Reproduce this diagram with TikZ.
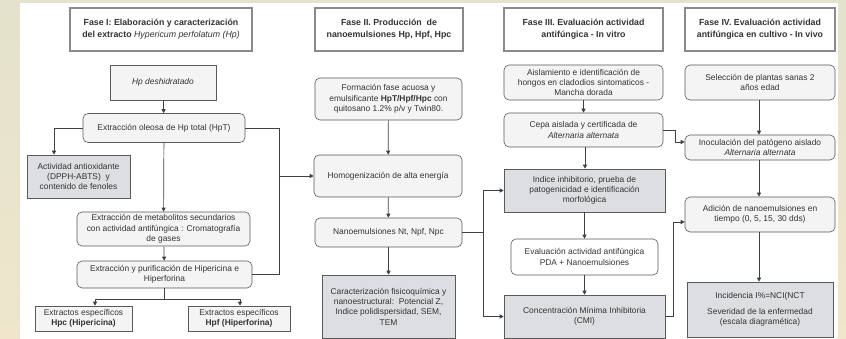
\documentclass[tikz,border=0pt]{standalone}
\usepackage{fontspec}
\setmainfont{Liberation Sans}
\usetikzlibrary{arrows.meta,calc}
\definecolor{bdr}{HTML}{5A5A5A}
\definecolor{tbdr}{HTML}{8A8A8A}
\definecolor{lfill}{HTML}{F4F4F4}
\definecolor{dfill}{HTML}{DCDEE1}
\definecolor{txt}{HTML}{333333}
\definecolor{ln}{HTML}{404040}
\definecolor{bgA}{HTML}{E4E2CC}
\definecolor{bgB}{HTML}{EFE6CC}
\begin{document}
\begin{tikzpicture}[x=1pt,y=-1pt,
  base/.style={align=center,text=txt,font=\fontsize{8.4}{10.3}\selectfont,inner sep=2pt},
  titlebox/.style={base,draw=tbdr,line width=1.3pt,fill=white,font=\bfseries\fontsize{8.8}{12}\selectfont},
  rbox/.style={base,draw=bdr,line width=0.6pt,rounded corners=5pt,fill=lfill},
  sbox/.style={base,draw=bdr,line width=0.6pt,fill=lfill},
  dbox/.style={base,draw=bdr,line width=0.6pt,fill=dfill},
  wbox/.style={base,draw=bdr,line width=0.6pt,fill=white},
  arr/.style={draw=ln,line width=0.7pt,-{Triangle[length=4pt,width=4pt]}},
  lin/.style={draw=ln,line width=0.7pt}]
\useasboundingbox (0,0) rectangle (846,339);
\shade[top color=bgA,bottom color=bgB] (0,0) rectangle (846,339);
\fill[white] (20,3) rectangle (838,339);

% Column I
\node[titlebox,minimum width=182pt,minimum height=43pt] (t1) at (161,29.5) {Fase I: Elaboración y caracterización\\del extracto \mdseries\itshape Hypericum perfolatum (Hp)};
\node[sbox,minimum width=106pt,minimum height=35pt] (hp) at (163,82.5) {\itshape Hp deshidratado};
\node[rbox,minimum width=162pt,minimum height=29pt] (ext) at (164,128) {Extracción oleosa de Hp total (HpT)};
\node[dbox,minimum width=103pt,minimum height=43pt] (act) at (78.5,176.5) {Actividad antioxidante\\(DPPH-ABTS)\ \ y\\contenido de fenoles};
\node[rbox,minimum width=173pt,minimum height=34pt] (met) at (163.5,229) {Extracción de metabolitos secundarios\\con actividad antifúngica : Cromatografía\\de gases};
\node[rbox,minimum width=175pt,minimum height=27pt] (pur) at (164.5,274.5) {Extracción y purificación de Hipericina e\\Hiperforina};
\node[sbox,minimum width=97pt,minimum height=25pt] (hpc) at (83.5,318.5) {Extractos específicos\\\textbf{Hpc (Hipericina)}};
\node[sbox,minimum width=102pt,minimum height=25pt] (hpf) at (239,318.5) {Extractos específicos\\\textbf{Hpf (Hiperforina)}};

% Column II
\node[titlebox,minimum width=148pt,minimum height=43pt] (t2) at (389,29.5) {Fase II. Producción\ \ de\\nanoemulsiones Hp, Hpf, Hpc};
\node[rbox,minimum width=147pt,minimum height=42pt] (form) at (388.5,99) {Formación fase acuosa y\\emulsificante \textbf{HpT/Hpf/Hpc} con\\quitosano 1.2\% p/v y Twin80.};
\node[rbox,minimum width=148pt,minimum height=42pt] (hom) at (388,176) {Homogenización de alta energía};
\node[rbox,minimum width=147pt,minimum height=29pt] (nano) at (388.5,232.5) {Nanoemulsiones Nt, Npf, Npc};
\node[dbox,minimum width=133pt,minimum height=63pt] (car) at (388.5,306.5) {Caracterización fisicoquímica y\\nanoestructural:\ \ Potencial Z,\\Indice polidispersidad, SEM,\\TEM};

% Column III
\node[titlebox,minimum width=159pt,minimum height=43pt] (t3) at (583.5,29.5) {Fase III. Evaluación actividad\\antifúngica - In vitro};
\node[rbox,minimum width=159pt,minimum height=35pt] (ais) at (583.5,82.5) {Aislamiento e identificación de\\hongos en cladodios sintomaticos -\\Mancha dorada};
\node[rbox,minimum width=159pt,minimum height=34pt] (cepa) at (583.5,130) {Cepa aislada y certificada de\\\itshape Alternaria alternata};
\node[dbox,minimum width=161pt,minimum height=43pt] (ind) at (584.5,190.5) {Indice inhibitorio, prueba de\\patogenicidad e identificación\\morfológica};
\node[wbox,rounded corners=5pt,minimum width=147pt,minimum height=36pt] (eva) at (584.5,257) {Evaluación actividad antifúngica\\PDA + Nanoemulsiones};
\node[dbox,minimum width=161pt,minimum height=43pt] (cmi) at (584.5,316.5) {Concentración Mínima Inhibitoria\\(CMI)};

% Column IV
\node[titlebox,minimum width=150pt,minimum height=43pt] (t4) at (760,29.5) {Fase IV. Evaluación actividad\\antifúngica en cultivo - In vivo};
\node[rbox,minimum width=150pt,minimum height=35pt] (sel) at (760,82.5) {Selección de plantas sanas 2\\años edad};
\node[rbox,minimum width=150pt,minimum height=25pt,inner sep=1pt,font=\fontsize{8.4}{9.3}\selectfont] (ino) at (760,147.5) {Inoculación del patógeno aislado\\\itshape Alternaria alternata};
\node[rbox,minimum width=150pt,minimum height=35pt] (adi) at (760,214.5) {Adición de nanoemulsiones en\\tiempo (0, 5, 15, 30 dds)};
\node[dbox,minimum width=146pt,minimum height=55pt] (inc) at (760,309.5) {Incidencia I\%=NCI(NCT\\[5pt]Severidad de la enfermedad\\(escala diagramética)};

% Connectors column I
\draw[arr] (hp) -- (ext);
\draw[arr] (ext.west) -| ([xshift=-24.5pt]act.north);
\draw[arr] (ext) -- (met);
\draw[arr] (met) -- (pur);
\coordinate (split) at (164.5,299);
\draw[lin] (pur.south) -- (split);
\draw[arr] (split) -| ([xshift=11.5pt]hpc.north);
\draw[arr] (split) -| ([xshift=1pt]hpf.north);
\coordinate (rt) at (279,128);
\coordinate (rb) at (279,274.5);
\draw[lin] (ext.east) -- (rt) -- (rb) -- (pur.east);
\draw[arr] (rt |- hom.west) -- (hom.west);

% Column II
\draw[arr] (form) -- (hom);
\draw[arr] (hom) -- (nano);
\draw[arr] (nano) -- (car);
\coordinate (nb) at (483,232.5);
\draw[lin] (nano.east) -- (nb);
\draw[arr] (nb) |- (ind.west);
\draw[arr] (nb) |- (cmi.west);

% Column III
\draw[arr] (ais) -- (cepa);
\draw[arr] ([xshift=1.5pt]cepa.south) -- ([xshift=0.5pt]ind.north);
\draw[arr] (ind) -- (eva);
\draw[arr] (eva) -- (cmi);
\coordinate (cx) at (675,130);
\draw[lin] (cepa.east) -- (cx);
\draw[arr] (cx) |- ([yshift=5.5pt]ino.west);
\coordinate (mx) at (673,316.5);
\draw[lin] (cmi.east) -- (mx);
\draw[arr] (mx) |- ([yshift=-7.5pt]adi.west);

% Column IV
\draw[arr] ([xshift=-1pt]sel.south) -- ([xshift=-1pt]ino.north);
\draw[arr] ([xshift=-1pt]ino.south) -- ([xshift=-1pt]adi.north);
\draw[arr] ([xshift=-1pt]adi.south) -- ([xshift=-1pt]inc.north);
\end{tikzpicture}
\end{document}
